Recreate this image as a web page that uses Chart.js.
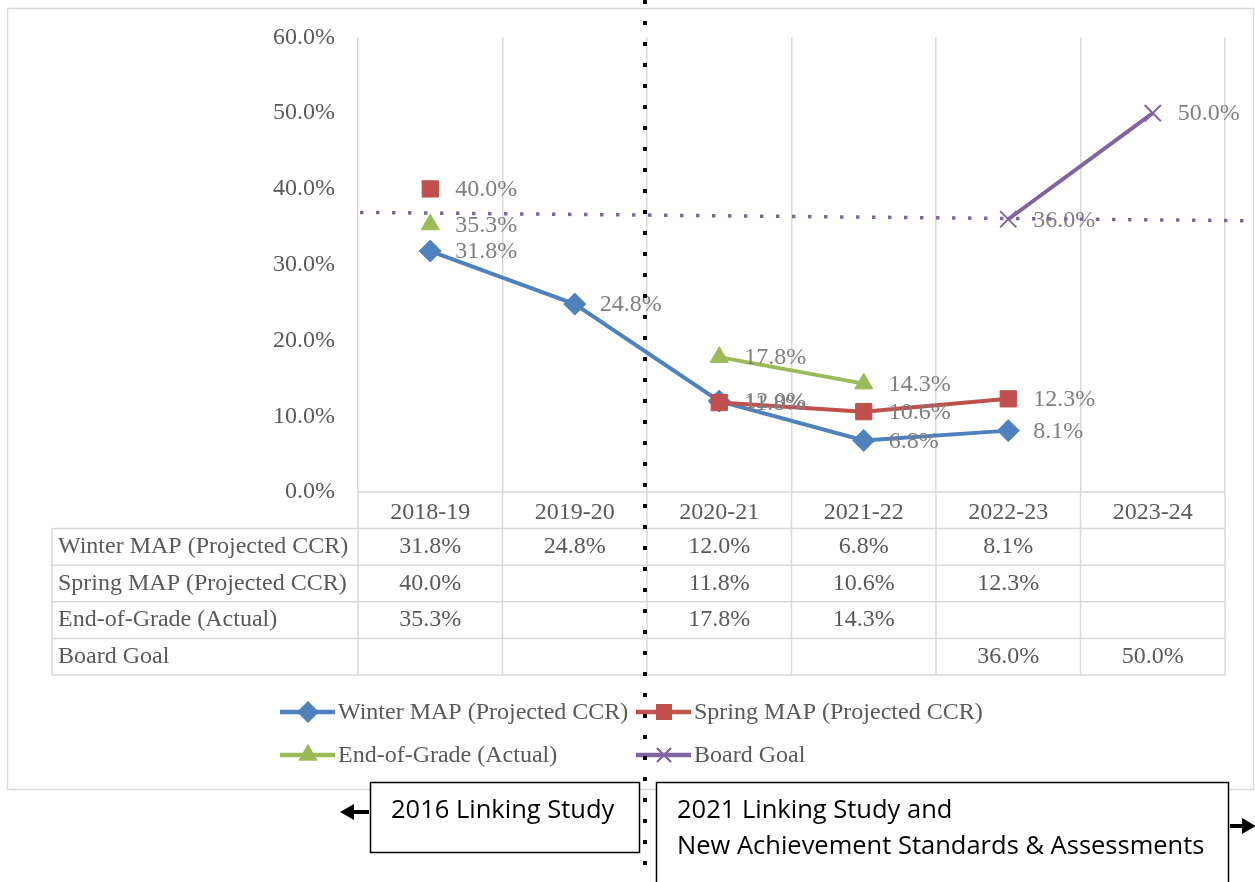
<!DOCTYPE html>
<html>
<head>
<meta charset="utf-8">
<script src="https://cdn.jsdelivr.net/npm/chart.js@4/dist/chart.umd.min.js"></script>
<style>
  html, body { margin: 0; padding: 0; background: #fff; }
  #wrap { width: 1255px; height: 882px; }
</style>
</head>
<body>
<div id="wrap"><canvas id="ccrChart" width="1255" height="882"></canvas></div>
<script>
// Data
const years = ['2018-19', '2019-20', '2020-21', '2021-22', '2022-23', '2023-24'];
const winterMap = [31.8, 24.8, 12.0, 6.8, 8.1, null];
const springMap = [40.0, null, 11.8, 10.6, 12.3, null];
const endOfGrade = [35.3, null, 17.8, 14.3, null, null];
const boardGoal = [null, null, null, null, 36.0, 50.0];
const yTicks = [0, 10, 20, 30, 40, 50, 60];
// dotted reference line (value at left edge, value at right edge)
const refLine = [36.9, 35.8];

const serif = '"Liberation Serif", "Times New Roman", serif';
const boxFont = '"Liberation Sans Narrow", "Arial Narrow", "Open Sans", sans-serif';

const series = [
    { label: 'Winter MAP (Projected CCR)', data: winterMap, color: '#4f81bd', style: 'rectRot', radius: 11 },
    { label: 'Spring MAP (Projected CCR)', data: springMap, color: '#c0504d', style: 'rect', radius: 11.5 },
    { label: 'End-of-Grade (Actual)', data: endOfGrade, color: '#9bbb59', style: 'triangle', radius: 10.5 },
    { label: 'Board Goal', data: boardGoal, color: '#8064a2', style: 'crossRot', radius: 11.5 }
];

function fmt(v) {
    return v.toFixed(1) + '%';
}

// white background + outer frame
const framePlugin = {
    id: 'frame',
    beforeDraw(chart) {
        const ctx = chart.ctx;
        ctx.save();
        ctx.fillStyle = '#ffffff';
        ctx.fillRect(0, 0, chart.width, chart.height);
        ctx.strokeStyle = '#d9d9d9';
        ctx.lineWidth = 1.5;
        ctx.strokeRect(7.5, 8.5, 1246, 781);
        ctx.restore();
    }
};

// data table under the plot
const tablePlugin = {
    id: 'dataTable',
    afterDraw(chart) {
        const ctx = chart.ctx;
        const xs = chart.scales.x;
        const area = chart.chartArea;
        const half = (xs.getPixelForValue(1) - xs.getPixelForValue(0)) / 2;
        const rowH = 36.6;
        const top = area.bottom;
        const firstRow = top + rowH;
        const tableLeft = 52;
        ctx.save();
        ctx.strokeStyle = '#d9d9d9';
        ctx.lineWidth = 1.5;
        // vertical lines in the table
        for (let i = 0; i <= years.length; i++) {
            const x = xs.getPixelForValue(i) - half;
            ctx.beginPath();
            ctx.moveTo(x, top);
            ctx.lineTo(x, firstRow + rowH * series.length);
            ctx.stroke();
        }
        ctx.beginPath();
        ctx.moveTo(tableLeft, firstRow);
        ctx.lineTo(tableLeft, firstRow + rowH * series.length);
        ctx.stroke();
        // horizontal lines
        ctx.beginPath();
        ctx.moveTo(area.left, top);
        ctx.lineTo(area.right, top);
        ctx.stroke();
        for (let r = 0; r <= series.length; r++) {
            const y = firstRow + rowH * r;
            ctx.beginPath();
            ctx.moveTo(tableLeft, y);
            ctx.lineTo(area.right, y);
            ctx.stroke();
        }
        // texts
        ctx.fillStyle = '#595959';
        ctx.font = '24px ' + serif;
        ctx.textBaseline = 'middle';
        series.forEach((s, r) => {
            const yMid = firstRow + rowH * r + rowH / 2;
            ctx.textAlign = 'left';
            ctx.fillText(s.label, tableLeft + 6, yMid);
            ctx.textAlign = 'center';
            s.data.forEach((v, i) => {
                if (v !== null) ctx.fillText(fmt(v), xs.getPixelForValue(i), yMid);
            });
        });
        ctx.restore();
    }
};

// value labels right of each marker
const labelPlugin = {
    id: 'pointLabels',
    afterDatasetsDraw(chart) {
        const ctx = chart.ctx;
        ctx.save();
        ctx.fillStyle = '#7f7f7f';
        ctx.font = '24px ' + serif;
        ctx.textBaseline = 'middle';
        ctx.textAlign = 'left';
        chart.data.datasets.forEach((ds, di) => {
            const meta = chart.getDatasetMeta(di);
            meta.data.forEach((pt, i) => {
                const v = ds.data[i];
                if (v === null) return;
                ctx.fillText(fmt(v), pt.x + 25, pt.y + 1);
            });
        });
        ctx.restore();
    }
};

// dotted lines, legend and the text boxes
const overlayPlugin = {
    id: 'overlay',
    afterDraw(chart) {
        const ctx = chart.ctx;
        const ys = chart.scales.y;
        ctx.save();

        // purple dotted reference line
        ctx.strokeStyle = '#8064a2';
        ctx.lineWidth = 3.5;
        ctx.setLineDash([3.5, 12.5]);
        ctx.beginPath();
        ctx.moveTo(360, ys.getPixelForValue(refLine[0]));
        ctx.lineTo(1250, ys.getPixelForValue(refLine[1]));
        ctx.stroke();

        // legend
        ctx.setLineDash([]);
        const legendPos = [[280, 712], [636, 712], [280, 755], [636, 755]];
        ctx.font = '24px ' + serif;
        ctx.textBaseline = 'middle';
        ctx.textAlign = 'left';
        series.forEach((s, i) => {
            const [lx, ly] = legendPos[i];
            ctx.strokeStyle = s.color;
            ctx.lineWidth = 4.5;
            ctx.beginPath();
            ctx.moveTo(lx, ly);
            ctx.lineTo(lx + 55, ly);
            ctx.stroke();
            ctx.lineWidth = 2;
            Chart.helpers.drawPoint(ctx, {
                pointStyle: s.style, radius: s.radius * 0.85, rotation: 0, borderWidth: 2
            }, lx + 28, ly);
            ctx.fillStyle = s.color;
            ctx.fill();
            ctx.stroke();
            ctx.fillStyle = '#595959';
            ctx.fillText(s.label, lx + 58, ly + 1);
        });

        // black dotted divider
        ctx.strokeStyle = '#000000';
        ctx.lineWidth = 4;
        ctx.setLineDash([4, 17]);
        ctx.beginPath();
        ctx.moveTo(645, 0);
        ctx.lineTo(645, 882);
        ctx.stroke();
        ctx.setLineDash([]);

        // text boxes
        ctx.lineWidth = 1.5;
        ctx.fillStyle = '#ffffff';
        ctx.fillRect(370, 782, 270, 71);
        ctx.strokeRect(370.5, 782.5, 269, 70);
        ctx.fillRect(656, 782, 573, 110);
        ctx.strokeRect(656.5, 782.5, 572, 110);
        ctx.fillStyle = '#000000';
        ctx.font = '25.5px ' + boxFont;
        ctx.fillText('2016 Linking Study', 391, 811);
        ctx.fillText('2021 Linking Study and', 677, 811);
        ctx.fillText('New Achievement Standards & Assessments', 677, 847);

        // arrows
        ctx.lineWidth = 4;
        ctx.beginPath();
        ctx.moveTo(369, 812);
        ctx.lineTo(350, 812);
        ctx.stroke();
        ctx.beginPath();
        ctx.moveTo(340, 812);
        ctx.lineTo(354, 804);
        ctx.lineTo(354, 820);
        ctx.closePath();
        ctx.fill();
        ctx.beginPath();
        ctx.moveTo(1230, 826);
        ctx.lineTo(1246, 826);
        ctx.stroke();
        ctx.beginPath();
        ctx.moveTo(1256, 826);
        ctx.lineTo(1242, 818);
        ctx.lineTo(1242, 834);
        ctx.closePath();
        ctx.fill();
        ctx.restore();
    }
};

const ctx = document.getElementById('ccrChart').getContext('2d');
const chart = new Chart(ctx, {
    type: 'line',
    data: {
        labels: years,
        // later series sit on top, as in the original
        datasets: series.map((s, i) => ({
            label: s.label,
            data: s.data,
            order: series.length - i,
            borderColor: s.color,
            backgroundColor: s.color,
            borderWidth: 4,
            pointStyle: s.style,
            pointRadius: s.radius,
            pointBorderWidth: s.style === 'crossRot' ? 2 : 1,
            pointBorderColor: s.color,
            pointBackgroundColor: s.color,
            tension: 0,
            spanGaps: false
        }))
    },
    options: {
        responsive: false,
        animation: false,
        layout: {
            padding: { top: 35, right: 30, bottom: 207, left: 0 }
        },
        scales: {
            x: {
                offset: true,
                grid: { display: true, offset: true, color: '#d9d9d9', lineWidth: 1.5, drawTicks: false },
                border: { display: false },
                ticks: {
                    color: '#595959',
                    font: { family: serif, size: 24 },
                    padding: 6,
                    maxRotation: 0
                },
                afterFit(scale) { scale.height = 183; }
            },
            y: {
                min: 0,
                max: 60,
                afterBuildTicks(scale) { scale.ticks = yTicks.map(v => ({ value: v })); },
                grid: { display: false, drawTicks: false },
                border: { display: false },
                ticks: {
                    color: '#595959',
                    font: { family: serif, size: 24 },
                    padding: 23,
                    callback: v => fmt(v)
                },
                afterFit(scale) { scale.width = 358; }
            }
        },
        plugins: {
            legend: { display: false },
            tooltip: { enabled: false }
        }
    },
    plugins: [framePlugin, tablePlugin, labelPlugin, overlayPlugin]
});
</script>
</body>
</html>
